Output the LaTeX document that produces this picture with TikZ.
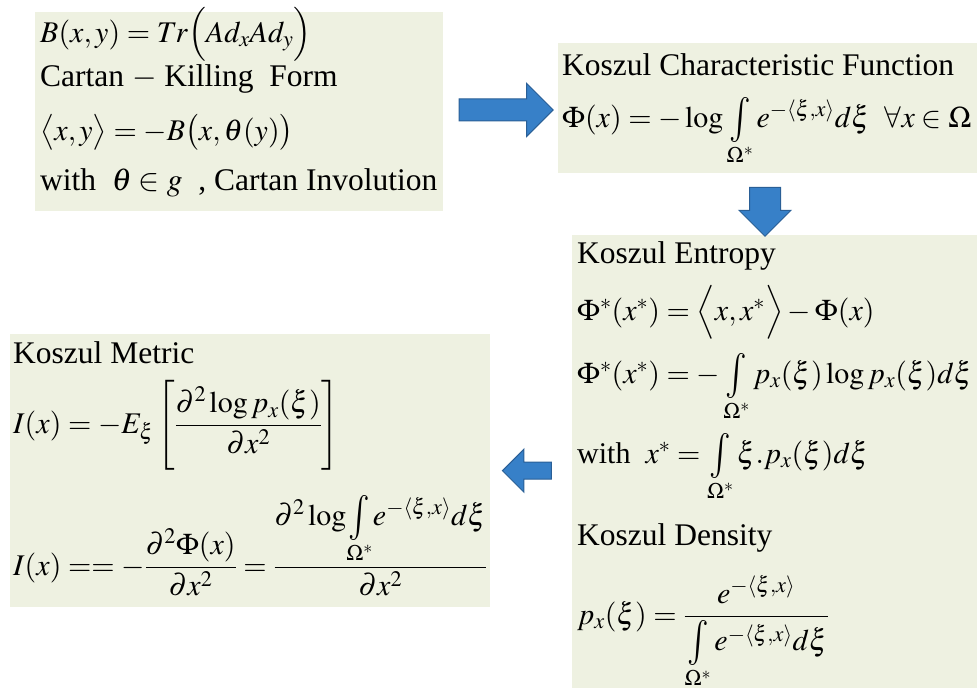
\documentclass[tikz,border=0pt]{standalone}
\usepackage{amsmath}
\usepackage{graphicx}
\usepackage{mathptmx}
\usepackage[no-math]{fontspec}
\setmainfont{Liberation Serif}
\usetikzlibrary{shapes,arrows,positioning,calc}
\definecolor{panelbg}{RGB}{238,241,225}
\definecolor{arrowblue}{RGB}{55,128,200}
\definecolor{arrowedge}{RGB}{42,95,150}
\newcommand{\bigint}{\mathop{\vcenter{\hbox{\scalebox{1.2}[1.5]{$\int$}}}}\limits}

\begin{document}
\begin{tikzpicture}[x=1pt, y=-1pt,
    panel/.style={rectangle, fill=panelbg, anchor=north west, inner sep=0pt},
    eqline/.style={anchor=base west, inner sep=0pt, font=\fontsize{31.5}{37}\selectfont},
    eqmath/.style={eqline, font=\fontsize{30}{36}\selectfont},
    bigarrow/.style={single arrow, draw=arrowedge, fill=arrowblue, line width=1pt, inner sep=0pt, single arrow head extend=#1}
]
\useasboundingbox (0,0) rectangle (977,688);

% panels
\node[panel, minimum width=408pt, minimum height=199pt] (kf) at (35,12) {};
\node[panel, minimum width=419pt, minimum height=130pt] (kcf) at (558,43) {};
\node[panel, minimum width=405pt, minimum height=453pt] (ke) at (572,235) {};
\node[panel, minimum width=480pt, minimum height=273pt] (km) at (10,334) {};

% Cartan-Killing form
\node[eqmath] (kf1) at (40,42) {$B(x,y)=Tr\Bigl(Ad_xAd_y\Bigr)$};
\node[eqline] (kf2) at (40,86) {Cartan $-$ Killing\ \ Form};
\node[eqmath] (kf3) at (40,140) {$\bigl\langle x,y\bigr\rangle=-B\bigl(x,\theta(y)\bigr)$};
\node[eqline] (kf4) at (40,190) {with\ \ $\theta\in g$\ \ , Cartan Involution};

% characteristic function
\node[eqline] (kcf1) at (562,75) {Koszul Characteristic Function};
\node[eqmath] (kcf2) at (562,127) {$\Phi(x)=-\log\bigint_{\Omega^*}e^{-\langle\xi,x\rangle}d\xi\ \ \forall x\in\Omega$};

% entropy and density
\node[eqline] (ke1) at (577,263) {Koszul Entropy};
\node[eqmath] (ke2) at (577,320) {$\Phi^*(x^*)=\Bigl\langle x,x^*\Bigr\rangle-\Phi(x)$};
\node[eqmath] (ke3) at (577,383) {$\Phi^*(x^*)=-\bigint_{\Omega^*}p_x(\xi)\log p_x(\xi)d\xi$};
\node[eqmath] (ke4) at (577,463) {with\ \ $x^*=\bigint_{\Omega^*}\xi.p_x(\xi)d\xi$};
\node[eqline] (ke5) at (577,545) {Koszul Density};
\node[eqmath] (ke6) at (577,624) {$p_x(\xi)=\dfrac{e^{-\langle\xi,x\rangle}}{\bigint_{\Omega^*}e^{-\langle\xi,x\rangle}d\xi}$};

% metric
\node[eqline] (km1) at (13,363) {Koszul Metric};
\node[eqmath] (km2) at (13,433) {$I(x)=-E_\xi\left[\dfrac{\partial^2\log p_x(\xi)}{\partial x^2}\right]$};
\node[eqmath] (km3) at (13,575) {$I(x)==-\dfrac{\partial^2\Phi(x)}{\partial x^2}=\dfrac{\partial^2\log\!\bigint_{\Omega^*}\!e^{-\langle\xi,x\rangle}d\xi}{\partial x^2}$};

% block arrows
\node[bigarrow=15.5pt, minimum height=94pt, inner ysep=10.5pt] (ar1) at ($(kf.east)!0.5!(kcf.west)$) {};
\node[bigarrow=10.5pt, minimum height=49pt, inner xsep=15pt, shape border rotate=270] (ar2) at (765,204) {};
\node[bigarrow=13pt, minimum height=49pt, inner ysep=8pt, shape border rotate=180] (ar3) at ($(km.east)!0.5!(ke.west |- km.east)$) {};
\end{tikzpicture}
\end{document}
